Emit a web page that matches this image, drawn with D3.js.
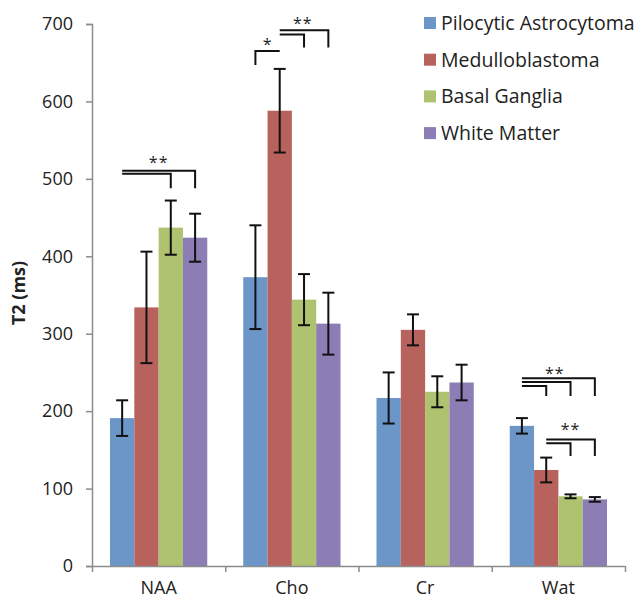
<!DOCTYPE html>
<html>
<head>
<meta charset="utf-8">
<script src="https://cdn.jsdelivr.net/npm/d3@7"></script>
<style>
  body { margin: 0; background: #fff; }
  text { font-family: "Open Sans", Lato, sans-serif; fill: #222; }
</style>
</head>
<body>
<div id="chart"></div>
<script>
// T2 bar chart with error bars

var categories = ["NAA", "Cho", "Cr", "Wat"];
var series = ["Pilocytic Astrocytoma", "Medulloblastoma", "Basal Ganglia", "White Matter"];
var colors = ["#6c96c8", "#b8625e", "#aec26f", "#8c7db5"];

// mean T2 per category, one array per series
var pilocytic = [191, 373, 217, 181];
var medullo   = [334, 588, 305, 124];
var basal     = [437, 344, 225, 90];
var white     = [424, 313, 237, 86];
// error bar half widths
var pilocyticErr = [23, 67, 33, 10];
var medulloErr   = [72, 54, 20, 16];
var basalErr     = [35, 33, 20, 2.5];
var whiteErr     = [31, 40, 23, 3];

var yTicks = [0, 100, 200, 300, 400, 500, 600, 700];

// significance brackets: from series, to series, level, end level (ms)
var brackets = [
  { cat: "NAA", from: 0, to: 3, y: 510.5, yEnd: 488 },
  { cat: "NAA", from: 0, to: 2, y: 506.5, yEnd: 488 },
  { cat: "Cho", from: 1, to: 0, y: 665,   yEnd: 647 },
  { cat: "Cho", from: 1, to: 3, y: 692,   yEnd: 669.5 },
  { cat: "Cho", from: 1, to: 2, y: 686.5, yEnd: 669.5 },
  { cat: "Wat", from: 0, to: 3, y: 242.5, yEnd: 219.5 },
  { cat: "Wat", from: 0, to: 2, y: 237.5, yEnd: 219.5 },
  { cat: "Wat", from: 0, to: 1, y: 232.5, yEnd: 219.5 },
  { cat: "Wat", from: 1, to: 3, y: 163.5, yEnd: 142 },
  { cat: "Wat", from: 1, to: 2, y: 158.5, yEnd: 142 }
];
var stars = [
  { cat: "NAA", pos: 1.5,  y: 524,   text: "**" },
  { cat: "Cho", pos: 0.5,  y: 676.5, text: "*" },
  { cat: "Cho", pos: 1.95, y: 704,   text: "**" },
  { cat: "Wat", pos: 1.35, y: 252,   text: "**" },
  { cat: "Wat", pos: 2,    y: 180,   text: "**" }
];

var values = [pilocytic, medullo, basal, white];
var errors = [pilocyticErr, medulloErr, basalErr, whiteErr];

var data = [];
categories.forEach(function(c, ci) {
  series.forEach(function(s, si) {
    data.push({ cat: c, s: si, v: values[si][ci], e: errors[si][ci] });
  });
});

var svgWidth = 638, svgHeight = 600;
var mLeft = 92, mRight = 625, mTop = 24, mBottom = 566;

var svg = d3.select("#chart")
  .append("svg")
    .attr("width", svgWidth)
    .attr("height", svgHeight);

var x = d3.scaleBand()
  .domain(categories)
  .range([mLeft, mRight])
  .padding(0);

var inner = d3.scaleBand()
  .domain(d3.range(series.length))
  .range([0, x.bandwidth()])
  .paddingInner(0)
  .paddingOuter(0.74);

var y = d3.scaleLinear()
  .domain([0, 700])
  .range([mBottom, mTop]);

function sx(cat, pos) {
  return x(cat) + inner(0) + inner.step() * pos + inner.bandwidth() / 2;
}

// Bars
svg.selectAll("rect.bar")
  .data(data)
  .enter().append("rect")
    .attr("class", "bar")
    .attr("x", function(d) { return x(d.cat) + inner(d.s); })
    .attr("width", inner.bandwidth())
    .attr("y", function(d) { return y(d.v); })
    .attr("height", function(d) { return y(0) - y(d.v); })
    .attr("fill", function(d) { return colors[d.s]; });

// Error bars
var capW = 6;
var eb = svg.append("g")
  .attr("stroke", "#111")
  .attr("stroke-width", 2);
data.forEach(function(d) {
  var cx = sx(d.cat, d.s);
  eb.append("line")
    .attr("x1", cx).attr("x2", cx)
    .attr("y1", y(d.v + d.e)).attr("y2", y(d.v - d.e));
  eb.append("line")
    .attr("x1", cx - capW).attr("x2", cx + capW)
    .attr("y1", y(d.v + d.e)).attr("y2", y(d.v + d.e));
  eb.append("line")
    .attr("x1", cx - capW).attr("x2", cx + capW)
    .attr("y1", y(d.v - d.e)).attr("y2", y(d.v - d.e));
});

// Y axis
var yAxis = svg.append("g")
  .attr("transform", "translate(" + mLeft + ",0)")
  .call(d3.axisLeft(y).tickValues(yTicks).tickSize(6).tickPadding(13));
yAxis.select(".domain").attr("stroke", "#8c8c8c").attr("stroke-width", 1.5);
yAxis.selectAll(".tick line").attr("stroke", "#8c8c8c").attr("stroke-width", 1.5);
yAxis.selectAll(".tick text")
  .style("font-family", "'Open Sans', sans-serif")
  .style("font-size", "18px")
  .attr("fill", "#222");

// X axis: boundary ticks plus category labels
var xb = d3.scaleLinear().domain([0, categories.length]).range([mLeft, mRight]);
var xAxis = svg.append("g")
  .attr("transform", "translate(0," + mBottom + ")")
  .call(d3.axisBottom(xb).tickValues(d3.range(categories.length + 1)).tickFormat("").tickSize(6).tickSizeOuter(0));
xAxis.select(".domain").attr("stroke", "#8c8c8c").attr("stroke-width", 1.5);
xAxis.selectAll(".tick line").attr("stroke", "#8c8c8c").attr("stroke-width", 1.5);

var xLab = svg.append("g")
  .attr("transform", "translate(0," + mBottom + ")")
  .call(d3.axisBottom(x).tickSize(0).tickPadding(15));
xLab.select(".domain").remove();
xLab.selectAll(".tick text")
  .style("font-family", "'Open Sans', sans-serif")
  .style("font-size", "18px")
  .attr("fill", "#222");

// Y title
svg.append("text")
  .attr("transform", "translate(25,293)rotate(-90)")
  .attr("text-anchor", "middle")
  .style("font-size", "18px")
  .style("font-weight", "bold")
  .text("T2 (ms)");

// Significance brackets
var br = svg.append("g")
  .attr("fill", "none")
  .attr("stroke", "#111")
  .attr("stroke-width", 2);
brackets.forEach(function(b) {
  var x0 = sx(b.cat, b.from), x1 = sx(b.cat, b.to);
  br.append("path")
    .attr("d", "M" + x0 + "," + y(b.y) + "H" + x1 + "V" + y(b.yEnd));
});

svg.selectAll("text.star")
  .data(stars)
  .enter().append("text")
    .attr("class", "star")
    .attr("x", function(d) { return sx(d.cat, d.pos); })
    .attr("y", function(d) { return y(d.y) + 8; })
    .attr("text-anchor", "middle")
    .style("font-size", "16px")
    .style("letter-spacing", "1px")
    .text(function(d) { return d.text; });

// Legend
var legendG = svg.append("g")
  .attr("class", "legend")
  .attr("transform", "translate(424,23)");

var rows = legendG.selectAll("g")
  .data(series)
  .enter().append("g")
    .attr("transform", function(d, i) { return "translate(0," + (i * 36.7) + ")"; });

rows.append("rect")
  .attr("x", 0)
  .attr("y", -6)
  .attr("width", 12)
  .attr("height", 12)
  .attr("fill", function(d, i) { return colors[i]; });

rows.append("text")
  .attr("x", 17)
  .attr("y", 7)
  .style("font-size", "19.5px")
  .text(function(d) { return d; });
</script>
</body>
</html>
